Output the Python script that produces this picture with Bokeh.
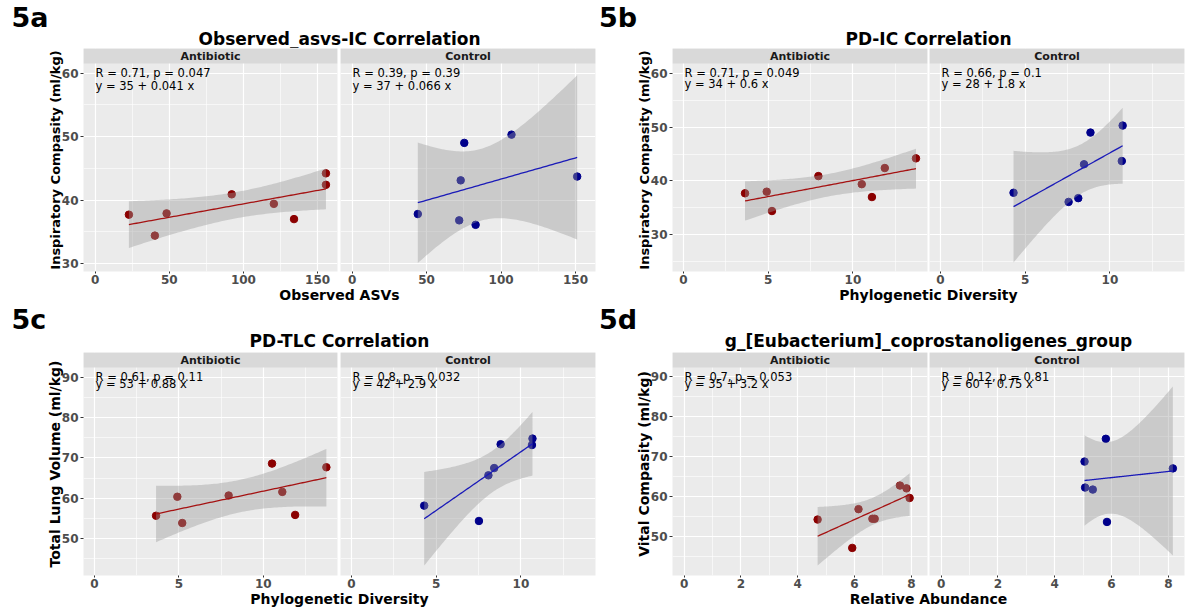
import numpy as np
from bokeh.plotting import figure
from bokeh.models import Range1d, FixedTicker, BoxAnnotation, Label
from bokeh.layouts import column, row
from bokeh.embed import file_html
from bokeh.resources import INLINE

FONT = "DejaVu Sans"

# ---------------- data ----------------
strips = ["Antibiotic", "Control"]

a_abx_x = [22.8, 40.3, 48.2, 92.1, 120.5, 134.1, 155.6, 155.6]
a_abx_y = [37.7, 34.4, 37.9, 40.9, 39.4, 37.0, 44.2, 42.4]
a_ctl_x = [44.1, 75.3, 72.9, 71.9, 82.9, 107.0, 151.1]
a_ctl_y = [37.8, 49.0, 43.1, 36.8, 36.1, 50.3, 43.7]

b_abx_x = [3.63, 4.91, 5.22, 7.96, 10.52, 11.12, 11.88, 13.72]
b_abx_y = [37.7, 38.0, 34.4, 40.9, 39.4, 37.0, 42.4, 44.2]
b_ctl_x = [4.31, 8.85, 8.47, 7.56, 8.13, 10.75, 10.70]
b_ctl_y = [37.8, 49.0, 43.1, 36.1, 36.8, 50.3, 43.7]

c_abx_x = [3.65, 4.91, 5.20, 7.95, 10.52, 11.13, 11.89, 13.74]
c_abx_y = [55.7, 60.4, 53.9, 60.7, 68.6, 61.6, 55.9, 67.7]
c_ctl_x = [4.29, 7.52, 8.08, 8.42, 8.80, 10.65, 10.68]
c_ctl_y = [58.2, 54.4, 65.7, 67.5, 73.4, 73.2, 74.8]

d_abx_x = [4.70, 5.92, 6.14, 6.63, 6.71, 7.60, 7.83, 7.94]
d_abx_y = [54.2, 47.1, 56.8, 54.4, 54.4, 62.7, 62.0, 59.6]
d_ctl_x = [5.05, 5.07, 5.34, 5.80, 5.84, 8.16]
d_ctl_y = [68.7, 62.2, 61.7, 74.4, 53.6, 67.0]

a_stats = [["R = 0.71, p = 0.047", "y = 35 + 0.041 x"], ["R = 0.39, p = 0.39", "y = 37 + 0.066 x"]]
b_stats = [["R = 0.71, p = 0.049", "y = 34 + 0.6 x"], ["R = 0.66, p = 0.1", "y = 28 + 1.8 x"]]
c_stats = [["R = 0.61, p = 0.11", "y = 53 + 0.88 x"], ["R = 0.8, p = 0.032", "y = 42 + 2.9 x"]]
d_stats = [["R = 0.7, p = 0.053", "y = 35 + 3.2 x"], ["R = 0.12, p = 0.81", "y = 60 + 0.75 x"]]

a_xticks, a_xminor = [0, 50, 100, 150], [25, 75, 125]
pd_xticks, pd_xminor = [0, 5, 10], [2.5, 7.5, 12.5]
d_xticks, d_xminor = [0, 2, 4, 6, 8], [1, 3, 5, 7]
ic_yticks, ic_yminor = [30, 40, 50, 60], [25, 35, 45, 55]
hi_yticks, hi_yminor = [50, 60, 70, 80, 90], [45, 55, 65, 75, 85]

# 97.5% t quantiles for the lm confidence band (df = n - 2)
T975 = {4: 2.776445, 5: 2.570582, 6: 2.446912}

ABX_PT, CTL_PT = "#8B0000", "#00008B"
ABX_LN, CTL_LN = "#A51212", "#1A1AB8"

STRIP_H = 15
FRAME_H = 208
AX_H = 15
FIG_H = STRIP_H + FRAME_H + AX_H


def lm_band(x, y):
    x = np.asarray(x, float)
    y = np.asarray(y, float)
    n = len(x)
    b, a = np.polyfit(x, y, 1)
    res = y - (a + b * x)
    s = np.sqrt(np.sum(res ** 2) / (n - 2))
    xm = x.mean()
    sxx = np.sum((x - xm) ** 2)
    xs = np.linspace(x.min(), x.max(), 80)
    yh = a + b * xs
    se = s * np.sqrt(1.0 / n + (xs - xm) ** 2 / sxx)
    t = T975[n - 2]
    return xs, yh, yh - t * se, yh + t * se


def facet(x, y, strip, stats, xr, yr, xt, xm, yt, ym, width, bl, br,
          pt_color, ln_color, ylabel=None, ylab_size="14px", dy=(9, 22)):
    ylo, yhi = yr
    ext = yhi + STRIP_H * (yhi - ylo) / FRAME_H
    p = figure(width=width, height=FIG_H, x_range=Range1d(*xr),
               y_range=Range1d(ylo, ext), toolbar_location=None, title=None,
               output_backend="svg", min_border_left=bl, min_border_right=br,
               min_border_top=0, min_border_bottom=AX_H,
               background_fill_color="#EBEBEB", border_fill_color="white",
               outline_line_color=None)
    xtick = FixedTicker(ticks=xt, minor_ticks=xm)
    ytick = FixedTicker(ticks=yt, minor_ticks=ym)
    p.xaxis.ticker = xtick
    p.yaxis.ticker = ytick
    p.xgrid.ticker = xtick
    p.ygrid.ticker = ytick
    for g in (p.xgrid, p.ygrid):
        g.grid_line_color = "white"
        g.grid_line_width = 1.2
        g.minor_grid_line_color = "white"
        g.minor_grid_line_width = 0.6
    for ax in (p.xaxis, p.yaxis):
        ax.axis_line_color = None
        ax.major_tick_out = 3
        ax.major_tick_in = 0
        ax.major_tick_line_color = "#333333"
        ax.minor_tick_line_color = None
        ax.major_label_text_font = FONT
        ax.major_label_text_font_size = "12px"
        ax.major_label_text_font_style = "bold"
        ax.major_label_text_color = "#4D4D4D"
    p.xaxis.major_tick_out = 2
    p.xaxis.major_label_standoff = -1
    if ylabel is None:
        p.yaxis.visible = False
    else:
        p.yaxis.major_label_standoff = 1
        p.yaxis.axis_label = ylabel
        p.yaxis.axis_label_text_font = FONT
        p.yaxis.axis_label_text_font_size = ylab_size
        p.yaxis.axis_label_text_font_style = "bold"
        p.yaxis.axis_label_text_color = "black"
        p.yaxis.axis_label_standoff = -4

    # points, then smoother (band over points, then line)
    p.scatter(x, y, size=7.5, color=pt_color, line_color=pt_color)
    xs, yh, lo, hi = lm_band(x, y)
    p.varea(x=xs, y1=lo, y2=hi, fill_color="#999999", fill_alpha=0.4)
    p.line(xs, yh, line_color=ln_color, line_width=1.3)

    # facet strip
    p.add_layout(BoxAnnotation(bottom=yhi, fill_color="#D9D9D9", fill_alpha=1.0,
                               line_color=None))
    p.add_layout(Label(x=(xr[0] + xr[1]) / 2, y=(yhi + ext) / 2, text=strip,
                       text_align="center", text_baseline="middle",
                       text_font=FONT, text_font_size="11px",
                       text_font_style="bold", text_color="#1A1A1A"))
    # correlation / equation annotations
    for txt, d in zip(stats, dy):
        p.add_layout(Label(x=xr[0], y=yhi, x_offset=12, y_offset=-d, text=txt,
                           text_baseline="middle", text_font=FONT,
                           text_font_size="11.5px", text_color="black"))
    return p


def textfig(w, h, labels):
    p = figure(width=w, height=h, x_range=Range1d(0, w), y_range=Range1d(0, h),
               toolbar_location=None, title=None, output_backend="svg",
               min_border=0, outline_line_color=None, x_axis_type=None,
               y_axis_type=None, background_fill_color="white",
               border_fill_color="white")
    for lab in labels:
        p.add_layout(lab)
    return p


def panel(tag, title, xlabel, ylabel, data, stats, xr, xt, xm, yr, yt, ym,
          colw, tag_x, lw, lbl, lbr, rw, rbl, rbr, head_h, title_mid,
          tag_mid, foot_h, foot_mid, dy, ylab_size="14px"):
    center = (lbl + (lw + rw - rbr)) / 2
    head = textfig(colw, head_h, [
        Label(x=tag_x, y=head_h - tag_mid, text=tag, text_font=FONT,
              text_font_size="27px", text_font_style="bold", text_color="black",
              text_baseline="middle"),
        Label(x=center, y=head_h - title_mid, text=title, text_font=FONT,
              text_font_size="17px", text_font_style="bold", text_color="black",
              text_align="center", text_baseline="middle"),
    ])
    (ax, ay), (cx, cy) = data
    fl = facet(ax, ay, strips[0], stats[0], xr, yr, xt, xm, yt, ym, lw, lbl, lbr,
               ABX_PT, ABX_LN, ylabel=ylabel, ylab_size=ylab_size, dy=dy)
    fr = facet(cx, cy, strips[1], stats[1], xr, yr, xt, xm, yt, ym, rw, rbl, rbr,
               CTL_PT, CTL_LN, ylabel=None, dy=dy)
    foot = textfig(colw, foot_h, [
        Label(x=center, y=foot_h - foot_mid, text=xlabel, text_font=FONT,
              text_font_size="14px", text_font_style="bold", text_color="black",
              text_align="center", text_baseline="middle"),
    ])
    return column(head, row(fl, fr, spacing=0), foot, spacing=0)


LCOL, RCOL = 598, 589
left_geom = dict(colw=LCOL, tag_x=11, lw=339, lbl=83, lbr=2, rw=259, rbl=1, rbr=3)
right_geom = dict(colw=RCOL, tag_x=0.5, lw=330, lbl=74, lbr=1, rw=259, rbl=1, rbr=3)
top_geom = dict(head_h=48, title_mid=38, tag_mid=17, foot_h=17, foot_mid=8.5)
bot_geom = dict(head_h=49, title_mid=37, tag_mid=16, foot_h=17, foot_mid=8.5)

pa = panel("5a", "Observed_asvs-IC Correlation", "Observed ASVs",
           "Inspiratory Compasity (ml/kg)",
           [(a_abx_x, a_abx_y), (a_ctl_x, a_ctl_y)], a_stats,
           (-7.8, 163.4), a_xticks, a_xminor, (28.75, 61.5), ic_yticks, ic_yminor,
           dy=(9, 22), ylab_size="13px", **left_geom, **top_geom)
pb = panel("5b", "PD-IC Correlation", "Phylogenetic Diversity",
           "Inspiratory Compasity (ml/kg)",
           [(b_abx_x, b_abx_y), (b_ctl_x, b_ctl_y)], b_stats,
           (-0.65, 14.4), pd_xticks, pd_xminor, (23.15, 61.85), ic_yticks, ic_yminor,
           dy=(9, 20), ylab_size="13px", **right_geom, **top_geom)
pc = panel("5c", "PD-TLC Correlation", "Phylogenetic Diversity",
           "Total Lung Volume (ml/kg)",
           [(c_abx_x, c_abx_y), (c_ctl_x, c_ctl_y)], c_stats,
           (-0.65, 14.4), pd_xticks, pd_xminor, (40.9, 92.4), hi_yticks, hi_yminor,
           dy=(9, 16), **left_geom, **bot_geom)
pd_ = panel("5d", "g_[Eubacterium]_coprostanoligenes_group", "Relative Abundance",
            "Vital Compasity (ml/kg)",
            [(d_abx_x, d_abx_y), (d_ctl_x, d_ctl_y)], d_stats,
            (-0.41, 8.57), d_xticks, d_xminor, (40.2, 92.24), hi_yticks, hi_yminor,
            dy=(9, 16), **right_geom, **bot_geom)

p = column(row(pa, pb, spacing=0), row(pc, pd_, spacing=0), spacing=0)

open("out.html", "w").write(file_html(p, INLINE))
